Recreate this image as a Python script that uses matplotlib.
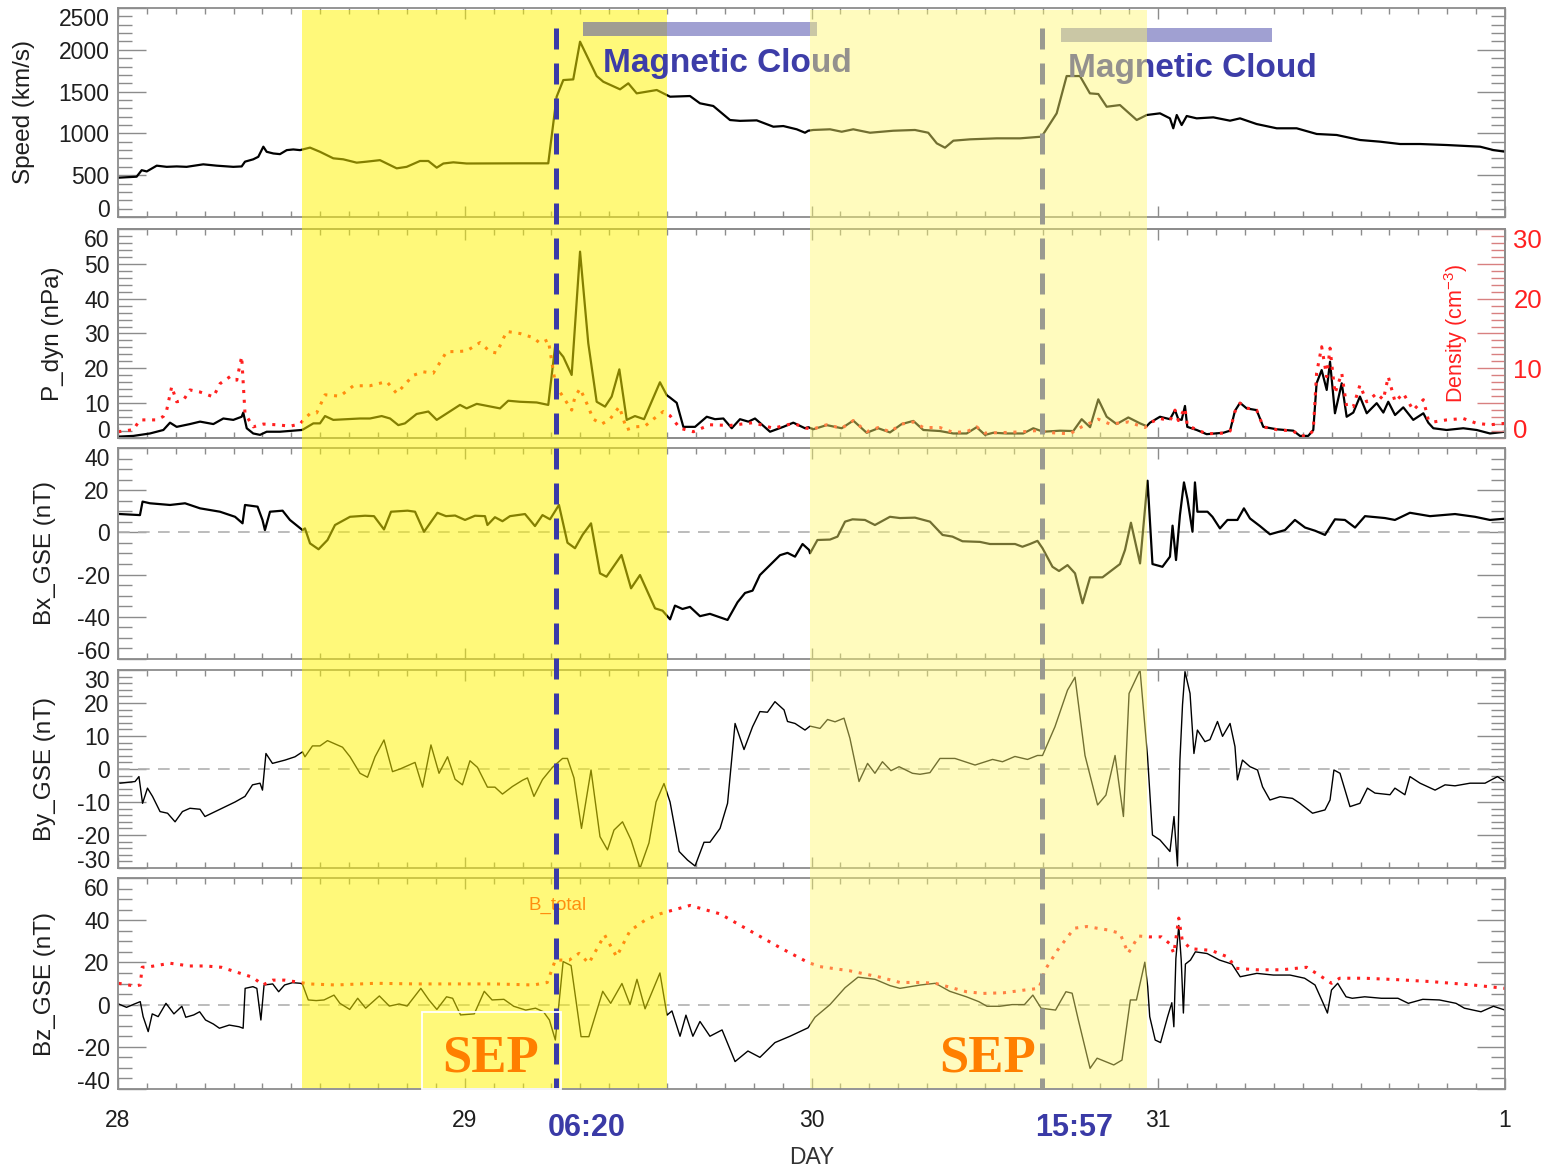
import numpy as np
import matplotlib
matplotlib.use("Agg")
import matplotlib.pyplot as plt
from matplotlib.patches import Rectangle
from matplotlib.lines import Line2D
from matplotlib.transforms import blended_transform_factory

plt.rcParams['font.family'] = ['Liberation Sans', 'DejaVu Sans']
plt.rcParams['axes.unicode_minus'] = False
plt.rcParams['mathtext.fontset'] = 'custom'
plt.rcParams['mathtext.rm'] = 'Liberation Sans'
plt.rcParams['mathtext.it'] = 'Liberation Sans:italic'
plt.rcParams['mathtext.bf'] = 'Liberation Sans:bold'

# ---- time axis: hours since 28 Oct 00:00 UT ----
day_ticks = [0, 24, 48, 72, 96]
day_labels = ['28', '29', '30', '31', '1']

# ---- solar wind speed (km/s) ----
speed_t = [0.0, 1.29, 1.64, 1.99, 2.68, 3.37, 4.06, 4.75, 5.90, 6.83,
           7.98, 8.56, 8.79, 9.36, 9.71, 10.06, 10.29, 10.75, 11.21, 11.68,
           12.13, 12.60, 12.83, 13.29, 13.98, 14.90, 15.59, 16.52, 17.21, 18.13,
           19.29, 19.98, 20.90, 21.48, 22.06, 22.52, 23.21, 24.13, 27.82, 29.78,
           30.36, 30.82, 31.51, 31.98, 33.13, 33.59, 34.75, 35.32, 35.90, 37.29,
           37.98, 38.21, 39.59, 40.28, 41.20, 42.36, 43.05, 44.21, 45.36, 46.05,
           46.98, 47.55, 47.78, 48.12, 49.28, 50.09, 50.89, 52.05, 53.66, 55.16,
           56.08, 56.67, 57.24, 57.82, 58.97, 60.82, 62.43, 63.93, 64.97, 65.66,
           66.58, 67.27, 67.85, 68.43, 69.35, 70.51, 71.20, 72.12, 72.81, 73.04,
           73.28, 73.62, 73.97, 74.66, 75.81, 76.97, 77.66, 78.81, 80.20, 81.58,
           82.97, 84.35, 85.97, 87.35, 88.74, 90.12, 91.97, 94.28, 95.19, 96.0]
speed_v = [470, 482, 560, 545, 614, 600, 605, 600, 630, 614,
           600, 605, 662, 690, 720, 841, 780, 760, 752, 800,
           808, 800, 810, 830, 780, 702, 690, 650, 662, 680,
           582, 600, 670, 670, 590, 640, 654, 640, 642, 642,
           1439, 1638, 1646, 2097, 1686, 1618, 1527, 1599, 1479, 1519,
           1459, 1439, 1447, 1360, 1328, 1160, 1150, 1156, 1080, 1088,
           1049, 1008, 1032, 1041, 1049, 1020, 1049, 1008, 1032, 1041,
           1008, 881, 829, 913, 929, 941, 941, 961, 1240, 1686,
           1686, 1479, 1471, 1319, 1339, 1160, 1220, 1240, 1180, 1061,
           1220, 1100, 1208, 1180, 1192, 1152, 1180, 1112, 1061, 1061,
           993, 981, 921, 901, 873, 873, 861, 841, 801, 781]

# ---- dynamic pressure (nPa) ----
pdyn_t = [0.02, 1.06, 2.21, 3.14, 3.60, 4.06, 4.98, 5.68, 6.60, 7.29,
          7.98, 8.56, 8.67, 8.91, 9.36, 9.83, 10.29, 11.21, 12.13, 12.71,
          12.83, 13.52, 13.98, 14.33, 14.90, 16.75, 17.44, 18.25, 18.83, 19.40,
          19.86, 20.67, 21.48, 22.06, 23.67, 24.13, 24.83, 26.44, 27.01, 27.82,
          28.98, 29.78, 30.25, 30.82, 31.40, 31.98, 32.55, 33.13, 33.71, 34.17,
          34.70, 35.21, 35.78, 36.41, 37.51, 37.98, 38.21, 38.67, 39.13, 39.94,
          40.75, 41.32, 41.90, 42.48, 43.05, 43.63, 44.09, 45.13, 46.05, 46.74,
          47.55, 47.78, 48.12, 49.05, 50.09, 50.89, 51.82, 52.62, 53.43, 54.24,
          55.05, 55.74, 56.89, 57.81, 58.74, 59.43, 60.01, 60.58, 61.51, 62.66,
          63.35, 64.04, 65.20, 66.12, 66.70, 67.28, 67.85, 68.43, 69.12, 69.93,
          70.74, 71.20, 71.43, 72.12, 72.81, 73.16, 73.39, 73.62, 73.85, 74.01,
          74.66, 75.35, 76.50, 76.97, 77.31, 77.66, 78.12, 78.81, 79.27, 80.20,
          81.35, 81.81, 82.38, 82.73, 82.96, 83.31, 83.66, 83.89, 84.23, 84.70,
          85.04, 85.50, 85.96, 86.43, 87.12, 87.58, 87.92, 88.39, 88.96, 89.65,
          90.35, 90.69, 91.04, 91.96, 93.11, 94.04, 94.96, 96.0]
pdyn_v = [0.4, 0.6, 1.3, 2.3, 4.4, 3.2, 4.0, 4.7, 4.0, 5.6,
          5.2, 6.1, 7.3, 2.8, 1.3, 0.9, 1.8, 1.8, 2.1, 2.3,
          2.5, 4.2, 4.2, 6.3, 5.2, 5.6, 5.6, 6.3, 5.6, 3.7,
          4.2, 6.9, 7.6, 5.2, 9.5, 8.5, 9.8, 8.5, 10.7, 10.4,
          10.2, 9.5, 26.2, 23.3, 18.1, 53.5, 27.2, 10.4, 9.0, 11.9,
          19.7, 5.2, 6.3, 5.4, 16.0, 12.3, 11.6, 10.1, 3.2, 3.2,
          6.1, 5.4, 5.6, 2.8, 5.4, 4.7, 5.6, 1.8, 3.2, 4.4,
          2.8, 3.1, 2.5, 3.7, 2.8, 5.0, 1.5, 2.8, 1.6, 4.0,
          4.9, 2.3, 2.0, 1.3, 1.3, 3.1, 0.9, 1.5, 1.3, 1.3,
          2.8, 1.8, 2.1, 2.0, 5.4, 3.1, 11.1, 6.1, 4.0, 5.9,
          4.2, 3.4, 4.4, 6.1, 5.4, 8.0, 5.4, 5.2, 9.2, 3.2,
          2.3, 1.1, 1.5, 2.1, 7.8, 10.1, 8.5, 8.0, 3.2, 2.5,
          2.1, 0.6, 0.6, 2.3, 15.7, 19.5, 13.8, 21.9, 7.1, 15.7,
          6.1, 7.3, 11.9, 7.1, 10.0, 7.3, 10.4, 6.6, 8.8, 5.2,
          7.1, 4.4, 2.8, 2.3, 2.8, 2.3, 1.3, 1.8]

# ---- proton density (cm^-3) ----
dens_t = [0.02, 1.06, 1.52, 2.68, 3.14, 3.37, 3.72, 4.06, 4.52, 4.98,
          5.68, 6.60, 7.06, 7.75, 8.22, 8.56, 8.79, 9.36, 10.06, 10.98,
          11.90, 12.60, 12.83, 13.29, 13.75, 14.33, 15.37, 16.29, 17.44, 18.60,
          19.29, 20.44, 21.13, 21.82, 22.75, 23.44, 24.13, 25.06, 25.75, 26.21,
          26.90, 27.82, 28.75, 29.21, 29.78, 30.25, 30.59, 31.40, 31.63, 31.98,
          32.44, 32.90, 33.48, 34.05, 34.70, 35.21, 35.78, 36.47, 37.05, 37.74,
          38.21, 38.90, 39.82, 40.97, 42.36, 43.97, 45.36, 46.74, 47.67, 48.12,
          49.05, 50.09, 50.89, 51.82, 52.62, 53.43, 54.24, 55.05, 55.74, 56.89,
          57.81, 58.74, 59.43, 60.01, 61.51, 62.66, 63.81, 64.28, 65.89, 66.70,
          67.85, 68.66, 69.93, 71.08, 71.43, 72.12, 72.81, 73.16, 73.39, 73.85,
          74.01, 74.66, 75.35, 76.50, 76.97, 77.31, 77.66, 78.12, 78.81, 79.27,
          80.20, 81.35, 81.81, 82.38, 82.73, 82.96, 83.31, 83.66, 83.89, 84.23,
          84.70, 85.04, 85.50, 85.96, 86.43, 87.12, 87.58, 87.92, 88.39, 88.96,
          89.65, 90.35, 90.69, 91.04, 91.96, 93.11, 94.04, 94.96, 96.0]
dens_v = [0.9, 1.2, 2.6, 2.6, 3.1, 4.0, 7.4, 5.2, 5.4, 6.9,
          6.6, 5.9, 7.8, 8.8, 8.3, 11.7, 3.5, 1.6, 2.0, 1.9,
          1.7, 2.0, 2.6, 3.5, 3.6, 6.2, 6.0, 7.5, 7.5, 8.1,
          6.4, 9.0, 9.5, 9.3, 12.4, 12.4, 12.5, 13.7, 12.4, 12.2,
          15.3, 15.0, 14.4, 13.6, 14.1, 8.1, 6.6, 4.0, 5.9, 7.1,
          5.0, 2.7, 2.0, 2.7, 4.5, 1.2, 1.6, 1.7, 2.7, 3.8,
          3.2, 1.4, 0.9, 1.9, 1.8, 2.2, 1.4, 2.1, 1.4, 1.3,
          1.9, 1.4, 2.5, 0.9, 1.5, 0.9, 2.0, 2.3, 1.5, 1.5,
          0.8, 0.9, 1.6, 0.7, 0.8, 0.9, 1.1, 0.8, 0.6, 1.6,
          2.7, 2.0, 2.3, 1.5, 2.2, 2.8, 2.5, 4.0, 2.5, 4.3,
          1.8, 1.2, 0.6, 0.7, 1.0, 3.8, 5.0, 4.3, 4.0, 1.6,
          1.2, 1.0, 0.3, 0.3, 1.1, 9.3, 13.1, 8.8, 12.9, 6.4,
          9.3, 4.5, 4.5, 7.6, 5.2, 6.4, 5.5, 8.8, 5.2, 6.4,
          4.0, 5.5, 2.6, 2.3, 2.6, 2.8, 2.1, 1.9, 2.1]

# ---- Bx GSE (nT) ----
bx_t = [0.14, 1.52, 1.70, 2.21, 3.60, 4.64, 5.68, 7.06, 8.10, 8.62,
        8.79, 9.66, 10.00, 10.17, 10.52, 11.39, 11.90, 12.42, 12.77, 12.94,
        13.29, 13.88, 14.50, 15.02, 16.06, 17.10, 17.72, 18.41, 18.90, 20.04,
        20.56, 21.18, 22.11, 22.70, 23.33, 24.02, 24.71, 25.40, 25.57, 26.09,
        26.61, 27.13, 28.17, 28.86, 29.38, 29.90, 30.52, 31.11, 31.63, 32.15,
        32.74, 33.36, 33.81, 34.85, 35.51, 36.13, 37.17, 37.69, 38.21, 38.55,
        39.07, 39.59, 40.28, 40.97, 42.19, 42.88, 43.40, 43.92, 44.43, 45.13,
        45.82, 46.34, 46.86, 47.38, 47.83, 47.90, 48.41, 49.28, 49.80, 50.32,
        50.84, 51.70, 52.39, 53.43, 54.12, 55.16, 56.20, 57.07, 57.76, 58.45,
        59.66, 60.35, 62.09, 62.60, 63.12, 63.64, 63.99, 64.68, 65.13, 65.72,
        66.24, 66.76, 67.28, 68.14, 69.35, 69.70, 70.11, 70.74, 71.26, 71.60,
        72.29, 72.81, 72.99, 73.23, 73.50, 73.78, 74.02, 74.37, 74.54, 74.71,
        75.41, 75.75, 76.27, 76.79, 77.48, 77.93, 78.35, 79.04, 79.73, 80.77,
        81.46, 82.16, 82.85, 83.54, 84.23, 84.92, 85.62, 86.31, 87.69, 88.38,
        89.42, 90.81, 92.54, 93.92, 94.96, 96.0]
bx_v = [8.7, 8.2, 14.6, 13.8, 13.0, 13.8, 11.4, 9.8, 7.4, 4.3,
        13.0, 12.2, 5.9, 1.1, 9.8, 10.3, 5.9, 3.0, 1.1, 1.9,
        -5.2, -8.0, -3.6, 3.5, 7.4, 7.9, 7.7, 1.4, 9.8, 10.3,
        9.8, 0.3, 9.3, 7.7, 8.0, 5.9, 7.9, 7.7, 3.5, 7.2,
        5.3, 7.7, 8.7, 3.0, 8.2, 6.2, 13.0, -4.9, -7.5, -1.2,
        4.3, -19.4, -21.0, -10.7, -26.5, -20.2, -36.0, -37.1, -41.2, -34.7,
        -36.3, -35.3, -39.7, -38.6, -41.5, -33.1, -28.7, -27.6, -20.2, -15.5,
        -10.8, -9.7, -11.5, -5.5, -8.3, -9.9, -3.6, -3.4, -2.0, 5.1,
        6.2, 5.9, 3.5, 7.4, 6.8, 7.0, 5.1, -1.2, -2.0, -4.2,
        -4.5, -5.5, -5.5, -6.8, -5.5, -4.0, -7.5, -16.3, -18.3, -15.5,
        -19.4, -33.6, -21.3, -21.3, -15.0, -8.3, 4.6, -14.7, 24.5, -15.0,
        -16.3, -11.5, 3.2, -13.1, 8.2, 23.7, 15.8, 0.3, 23.7, 9.8,
        9.8, 7.4, 1.9, 5.9, 5.9, 11.4, 6.6, 3.0, -0.9, 1.1,
        5.9, 2.3, 0.8, -1.2, 6.2, 5.9, 2.3, 7.7, 6.8, 5.9,
        9.3, 7.7, 8.7, 7.4, 5.9, 6.5]

# ---- By GSE (nT) ----
by_t = [0.14, 1.18, 1.45, 1.70, 2.04, 2.39, 2.91, 3.43, 3.95, 4.46,
        4.98, 5.68, 6.02, 7.06, 8.10, 8.79, 9.31, 9.83, 10.00, 10.24,
        10.69, 11.56, 12.25, 12.77, 12.94, 13.46, 13.98, 14.50, 15.54, 16.06,
        16.75, 17.27, 17.79, 18.41, 19.00, 19.52, 20.56, 21.08, 21.66, 22.22,
        22.81, 23.33, 23.84, 24.36, 24.88, 25.57, 26.09, 26.61, 27.30, 28.00,
        28.34, 28.79, 29.38, 30.07, 30.77, 31.11, 31.56, 32.08, 32.74, 33.36,
        33.88, 34.33, 34.92, 35.51, 36.13, 36.75, 37.24, 37.79, 38.21, 38.84,
        39.42, 39.94, 40.56, 40.97, 41.67, 42.19, 42.71, 43.33, 43.92, 44.43,
        44.95, 45.47, 46.10, 46.34, 46.86, 47.55, 47.90, 48.59, 49.11, 49.63,
        50.25, 50.66, 51.29, 51.88, 52.39, 52.91, 53.50, 54.06, 54.99, 55.51,
        56.20, 56.89, 57.93, 59.32, 60.53, 61.22, 62.08, 62.95, 63.64, 63.99,
        64.85, 65.72, 66.24, 66.93, 67.80, 68.38, 69.01, 69.59, 69.98, 70.74,
        71.26, 71.60, 72.12, 72.81, 73.09, 73.33, 73.50, 73.68, 73.85, 74.20,
        74.47, 74.71, 75.23, 75.58, 76.10, 76.45, 76.97, 77.31, 77.48, 77.83,
        78.35, 78.87, 79.22, 79.73, 80.43, 81.29, 81.81, 82.68, 83.54, 83.89,
        84.16, 84.58, 85.27, 85.96, 86.48, 87.00, 88.04, 88.38, 89.07, 89.42,
        90.12, 91.16, 91.85, 92.54, 93.58, 94.62, 95.48, 96.0]
by_v = [-4.3, -3.8, -2.3, -10.4, -5.8, -8.3, -12.9, -13.4, -16.0, -12.9,
        -11.9, -12.2, -14.4, -12.2, -10.0, -8.3, -4.8, -4.3, -6.4, 4.7,
        1.7, 2.7, 3.7, 5.2, 3.7, 7.0, 7.0, 8.6, 6.6, 3.7,
        -1.3, -2.5, 3.7, 8.8, -0.8, 0.0, 2.0, -5.5, 7.3, -1.3,
        3.7, -3.1, -4.8, 2.5, 0.5, -5.5, -5.5, -7.6, -5.3, -3.4,
        -2.7, -8.3, -3.2, 0.5, 3.2, 3.2, -2.7, -18.0, -0.3, -20.5,
        -24.5, -18.5, -16.0, -21.5, -30.1, -22.4, -10.0, -4.4, -10.0, -25.0,
        -27.6, -29.4, -22.2, -22.2, -18.0, -10.4, 13.8, 5.9, 12.8, 17.4,
        17.2, 20.4, 17.9, 14.4, 13.8, 11.8, 13.0, 12.3, 15.0, 14.3,
        15.4, 9.3, -3.8, 1.7, -1.3, 2.2, -0.5, 0.7, -1.3, -1.6,
        -1.1, 3.2, 3.2, 1.2, 2.9, 2.2, 3.8, 2.9, 4.1, 4.1,
        12.8, 23.9, 27.8, 4.1, -10.9, -7.9, 4.1, -14.4, 22.9, 30.0,
        3.7, -20.0, -21.5, -25.0, -14.4, -29.4, 2.7, 19.5, 29.5, 22.9,
        4.7, 11.8, 8.3, 8.9, 14.4, 9.9, 13.8, 6.8, -3.3, 2.7,
        0.7, -0.3, -5.4, -9.4, -8.4, -8.9, -10.4, -13.4, -12.4, -9.4,
        -0.3, -1.3, -11.4, -10.4, -5.8, -7.3, -7.8, -5.8, -7.8, -2.3,
        -4.3, -6.4, -4.8, -5.1, -4.3, -4.3, -2.3, -3.8]

# ---- Bz GSE (nT) ----
bz_t = [0.04, 0.59, 1.14, 1.54, 1.74, 2.09, 2.37, 2.78, 3.32, 3.87,
        4.42, 4.69, 5.24, 5.65, 6.06, 6.60, 7.02, 7.70, 8.38, 8.66,
        8.80, 9.34, 9.61, 9.89, 10.11, 10.71, 11.12, 11.53, 12.08, 12.62,
        12.76, 13.17, 13.72, 14.26, 14.95, 15.36, 16.04, 16.59, 17.14, 18.09,
        18.78, 19.46, 20.01, 20.96, 21.52, 22.07, 22.74, 23.16, 23.71, 24.66,
        25.35, 25.89, 26.71, 27.39, 28.22, 28.90, 29.45, 29.86, 30.27, 30.81,
        31.36, 32.05, 32.59, 33.55, 34.10, 34.88, 35.44, 35.92, 36.48, 37.51,
        38.00, 38.34, 38.90, 39.31, 39.79, 40.28, 40.97, 41.81, 42.71, 43.60,
        44.43, 45.47, 46.51, 47.76, 48.24, 49.28, 50.32, 51.22, 52.39, 53.43,
        54.12, 55.55, 56.57, 57.57, 58.72, 59.58, 60.15, 61.02, 61.88, 62.74,
        63.32, 63.89, 64.89, 65.61, 66.04, 66.47, 67.28, 67.77, 68.92, 69.49,
        70.07, 70.49, 71.07, 71.27, 71.41, 71.79, 72.16, 72.65, 72.94, 73.08,
        73.22, 73.42, 73.59, 73.74, 73.88, 74.23, 74.57, 75.38, 76.24, 77.10,
        77.67, 78.82, 79.97, 81.12, 82.13, 82.85, 83.42, 83.71, 83.99, 84.42,
        85.00, 85.43, 86.29, 87.44, 88.59, 89.31, 90.31, 91.46, 92.61, 93.19,
        94.34, 95.20, 96.0]
bz_v = [0.3, -1.3, 0.3, 1.4, -5.7, -12.8, -4.4, -5.7, 0.6, -4.4,
        -0.8, -6.0, -4.9, -3.4, -7.3, -9.2, -11.2, -9.7, -10.5, -11.2,
        7.7, 8.5, 7.7, -7.3, 9.3, 9.8, 6.1, 9.3, 10.4, 10.1,
        9.8, 2.2, 1.9, 2.2, 4.5, 0.6, -2.3, 3.0, -1.7, 4.1,
        -0.7, 0.3, -0.7, 7.7, 2.2, -2.3, 3.7, 3.0, -4.9, -4.4,
        6.3, 2.2, 2.5, -0.8, -2.6, -1.7, -3.4, -7.3, -16.8, 20.4,
        18.5, -15.2, -15.2, 6.3, 0.6, 10.0, 0.0, 12.0, -2.0, 15.0,
        -5.0, -3.0, -15.0, -5.0, -15.0, -8.0, -15.0, -12.0, -27.0, -22.0,
        -25.0, -18.0, -15.0, -11.0, -6.0, 0.0, 8.0, 13.0, 12.0, 9.0,
        7.7, 9.3, 10.1, 6.3, 3.7, 1.4, -0.8, -0.8, 0.0, 0.0,
        4.5, -1.7, -2.6, 6.1, 5.4, -7.3, -30.2, -25.4, -28.6, -26.3,
        2.2, 2.2, 20.1, 8.5, -5.7, -16.8, -18.0, -5.7, 0.9, -10.5,
        21.8, 37.5, 21.1, -4.0, 19.2, 21.1, 25.0, 24.2, 21.1, 19.2,
        13.2, 14.8, 14.0, 14.0, 12.5, 9.3, 0.6, -4.0, 6.9, 10.1,
        3.7, 3.0, 3.7, 3.0, 3.0, 0.6, 2.5, 2.2, 0.6, -1.7,
        -3.4, -0.8, -2.6]

# ---- total field |B| (nT) ----
bt_t = [0.04, 1.14, 1.54, 1.67, 2.23, 3.60, 4.96, 6.06, 7.15, 8.25,
        9.34, 10.02, 10.71, 11.53, 12.62, 13.17, 15.09, 17.82, 20.56, 23.29,
        26.03, 28.77, 29.71, 30.27, 31.23, 31.91, 32.59, 33.68, 34.51, 35.44,
        36.48, 37.51, 38.00, 39.59, 41.67, 43.74, 45.82, 47.76, 48.59, 50.66,
        52.74, 54.12, 55.55, 56.57, 57.86, 58.72, 59.87, 61.30, 62.74, 63.74,
        64.17, 65.04, 66.19, 67.05, 68.49, 69.35, 69.92, 70.64, 71.36, 72.22,
        72.79, 73.08, 73.42, 73.66, 74.23, 75.66, 76.81, 77.39, 78.82, 80.54,
        82.27, 83.13, 83.99, 84.56, 86.29, 88.59, 90.88, 93.76, 96.0]
bt_v = [10.1, 8.8, 9.3, 17.7, 18.0, 19.6, 18.3, 18.3, 17.7, 15.3,
        12.9, 9.3, 11.6, 11.6, 10.5, 9.8, 9.3, 10.1, 9.8, 9.8,
        9.8, 9.3, 10.5, 21.1, 21.1, 24.3, 19.6, 33.0, 22.7, 35.0,
        40.0, 43.0, 44.0, 47.0, 43.0, 35.0, 27.0, 20.0, 18.0, 16.0,
        13.0, 10.5, 10.5, 10.1, 7.7, 6.1, 5.3, 5.6, 6.9, 7.7,
        16.5, 25.9, 36.2, 37.0, 35.4, 33.8, 24.3, 32.5, 32.1, 32.1,
        28.9, 24.3, 41.0, 30.5, 26.5, 25.7, 22.6, 17.2, 16.5, 16.5,
        17.7, 14.0, 10.1, 12.5, 12.5, 11.8, 10.9, 9.3, 7.7]

# ---- event markers (hours) ----
shock_times = [30 + 20 / 60, 48 + 15 + 57 / 60]      # 29 Oct 06:20, 30 Oct 15:57
shock_labels = ['06:20', '15:57']
sep_intervals = [(12.74, 38.0), (47.9, 71.2)]
cloud_intervals = [(32.2, 48.4), (65.3, 79.9)]

GRAY = '#8c8c8c'
INK = '#1e1e1e'
RED = '#ff2020'
BLUE = '#3d3da8'
ORANGE = '#ff7f00'
DOTS = (0, (1, 2.2))
TICK_FS = 16.5
LABEL_FS = 17.5

W, H = 1551, 1169
fig = plt.figure(figsize=(W / 100, H / 100), dpi=100)


def add_panel(top, bottom):
    return fig.add_axes([118 / W, 1 - bottom / H, 1387 / W, (bottom - top) / H])


def style(ax, ylim, major, minor, ylabel, label_x, right=True):
    ax.set_xlim(0, 96)
    ax.set_ylim(*ylim)
    ax.set_yticks(np.arange(ylim[0], ylim[1] + 0.1, major))
    ax.set_yticks(np.arange(ylim[0], ylim[1] + 0.1, minor), minor=True)
    ax.set_xticks(day_ticks)
    ax.set_xticks(np.arange(0, 97, 2), minor=True)
    for s in ax.spines.values():
        s.set_color(GRAY)
        s.set_linewidth(1.3)
    ax.tick_params(axis='y', which='major', direction='in', length=20, width=1.0,
                   color=GRAY, left=True, right=right, labelsize=TICK_FS,
                   labelcolor=INK, pad=6)
    ax.tick_params(axis='y', which='minor', direction='in', length=10, width=1.0,
                   color=GRAY, left=True, right=right)
    ax.tick_params(axis='x', which='major', direction='in', length=8, width=1.0,
                   color=GRAY, top=True, bottom=True, labelbottom=False)
    ax.tick_params(axis='x', which='minor', direction='in', length=4, width=1.0,
                   color=GRAY, top=True, bottom=True)
    ax.set_ylabel(ylabel, fontsize=LABEL_FS, color=INK)
    ax.yaxis.set_label_coords(label_x, 0.5)
    # keep the end labels inside the panel frame
    ticks = ax.yaxis.get_major_ticks()
    ticks[0].label1.set_va('baseline')
    ticks[-1].label1.set_va('top')


ax_v = add_panel(8, 217)
ax_p = add_panel(229, 438)
ax_x = add_panel(448, 659)
ax_y = add_panel(670, 868)
ax_z = add_panel(878, 1089)

style(ax_v, (0, 2500), 500, 100, 'Speed (km/s)', -0.060)
style(ax_p, (0, 60), 10, 2, 'P_dyn (nPa)', -0.039, right=False)
style(ax_x, (-60, 40), 20, 5, 'Bx_GSE (nT)', -0.045)
style(ax_y, (-30, 30), 10, 2, 'By_GSE (nT)', -0.045)
style(ax_z, (-40, 60), 20, 5, 'Bz_GSE (nT)', -0.045)

# speed
ax_v.plot(speed_t, speed_v, color='k', lw=1.6)

# dynamic pressure + density on a twin scale
ax_p.plot(pdyn_t, pdyn_v, color='k', lw=1.6)
ax_d = ax_p.twinx()
ax_d.set_xlim(0, 96)
ax_d.set_ylim(0, 30)
ax_d.set_yticks(np.arange(0, 31, 5))
ax_d.set_yticklabels(['0', '', '10', '', '20', '', '30'])
ax_d.set_yticks(np.arange(0, 31, 1), minor=True)
ax_d.tick_params(axis='y', which='major', direction='in', length=20, width=1.0,
                 color='#d88080', labelsize=18.5, labelcolor=RED, pad=6)
ax_d.tick_params(axis='y', which='minor', direction='in', length=10, width=1.0,
                 color='#d88080')
for s in ax_d.spines.values():
    s.set_color(GRAY)
    s.set_linewidth(1.3)
dticks = ax_d.yaxis.get_major_ticks()
dticks[0].label2.set_va('baseline')
dticks[-1].label2.set_va('top')
ax_d.plot(dens_t, dens_v, color=RED, lw=2.2, linestyle=DOTS)
ax_d.text(0.9647, 0.50, r'Density (cm$^{-3}$)', transform=ax_d.transAxes,
          rotation=90, ha='center', va='center', color=RED, fontsize=15.5)

# magnetic field components
for ax in (ax_x, ax_y, ax_z):
    ax.axhline(0, color='#b0b0b0', lw=1.2, linestyle=(0, (7, 5)))
ax_x.plot(bx_t, bx_v, color='k', lw=1.6)
ax_y.plot(by_t, by_v, color='k', lw=1.0)
ax_z.plot(bz_t, bz_v, color='k', lw=1.0)
ax_z.plot(bt_t, bt_v, color=RED, lw=2.2, linestyle=DOTS)
ax_z.text(30.45, 47.2, 'B_total', color=RED, fontsize=13.5, ha='center', va='center')

# time axis labels
ax_z.set_xticklabels(day_labels)
ax_z.tick_params(axis='x', which='major', labelbottom=True, labelsize=TICK_FS,
                 labelcolor=INK, pad=14.5)
ax_z.set_xlabel('DAY', fontsize=16.5, color='#333333')
ax_z.xaxis.set_label_coords(0.5, -0.27)

# ---- event overlays spanning all panels ----
tr = blended_transform_factory(ax_z.transData, fig.transFigure)
y_lo, y_hi = 1 - 1088 / H, 1 - 10 / H
line_lo, line_hi = 1 - 1089 / H, 1 - 28 / H

s0, s1 = sep_intervals[0]
fig.add_artist(Rectangle((s0, y_lo), s1 - s0, y_hi - y_lo, transform=tr,
                         facecolor='#fff500', alpha=0.52, edgecolor='none', zorder=10))

c0, c1 = cloud_intervals[0]
fig.add_artist(Rectangle((c0, 1 - 36 / H), c1 - c0, 13.5 / H, transform=tr,
                         facecolor='#4949a9', alpha=0.52, edgecolor='none', zorder=11))
fig.text(33.57, 1 - 72 / H, 'Magnetic Cloud', transform=tr, ha='left', va='baseline',
         fontsize=24, fontweight='bold', color=BLUE, zorder=11)
c0, c1 = cloud_intervals[1]
fig.add_artist(Rectangle((c0, 1 - 42 / H), c1 - c0, 14 / H, transform=tr,
                         facecolor='#4949a9', alpha=0.52, edgecolor='none', zorder=11))
fig.text(65.75, 1 - 77 / H, 'Magnetic Cloud', transform=tr, ha='left', va='baseline',
         fontsize=24, fontweight='bold', color=BLUE, zorder=11)

fig.add_artist(Line2D([shock_times[0]] * 2, [line_hi, line_lo], transform=tr,
                      color='#3a3aa8', lw=3.6, linestyle=(0, (4.2, 2.8)), zorder=11))

fig.add_artist(Rectangle((21.02, 1 - 1089 / H), 9.61, 77 / H, transform=tr,
                         fill=False, edgecolor='white', lw=1.3, zorder=11))
fig.text(25.82, 1 - 1071.7 / H, 'SEP', transform=tr, ha='center', va='baseline',
         fontsize=38, fontweight='bold', family='Liberation Serif', color=ORANGE, zorder=11)

s0, s1 = sep_intervals[1]
fig.add_artist(Rectangle((s0, y_lo), s1 - s0, y_hi - y_lo, transform=tr,
                         facecolor='#fff86f', alpha=0.45, edgecolor='none', zorder=12))

fig.add_artist(Line2D([shock_times[1]] * 2, [line_hi, line_lo], transform=tr,
                      color='#9a9a90', lw=3.6, linestyle=(0, (4.2, 2.8)), zorder=13))
fig.text(60.21, 1 - 1071.7 / H, 'SEP', transform=tr, ha='center', va='baseline',
         fontsize=38, fontweight='bold', family='Liberation Serif', color=ORANGE, zorder=13)

for t, lab, xc in zip(shock_times, shock_labels, (32.43, 66.17)):
    fig.text(xc, 1 - 1136.5 / H, lab, transform=tr, ha='center', va='baseline',
             fontsize=22, fontweight='bold', color='#3a3aa6', zorder=13)

fig.savefig('out.png', dpi=100)
